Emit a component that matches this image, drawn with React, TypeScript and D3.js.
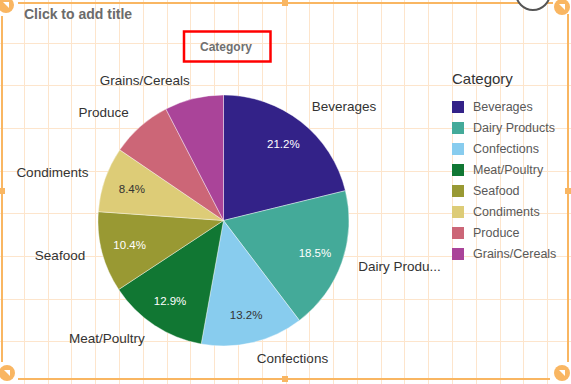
import { useEffect, useRef } from "react";
import * as d3 from "d3";

const categories = [
  "Beverages",
  "Dairy Products",
  "Confections",
  "Meat/Poultry",
  "Seafood",
  "Condiments",
  "Produce",
  "Grains/Cereals",
];
const shares = [21.2, 18.5, 13.2, 12.9, 10.4, 8.4, 7.9, 7.6];
const colors = ["#332288", "#44aa99", "#88ccee", "#117733", "#999933", "#ddcc77", "#cc6677", "#aa4499"];
const darkText = ["Confections", "Condiments"];

const W = 571;
const H = 384;
const FONT = "'Liberation Sans', Arial, sans-serif";

const App = () => {
  const ref = useRef<SVGSVGElement | null>(null);

  useEffect(() => {
    const svg = d3.select(ref.current);
    svg.selectAll("*").remove();

    // editor grid
    const grid = svg.append("g").attr("stroke", "#fde5cc").attr("stroke-width", 1);
    d3.range(1, 24).forEach((i) => {
      const x = Math.round((i * W) / 24) + 0.5;
      grid.append("line").attr("x1", x).attr("x2", x).attr("y1", 0).attr("y2", H);
    });
    d3.range(1, 9).forEach((i) => {
      const y = Math.round((i * H) / 9) + 0.5;
      grid.append("line").attr("x1", 0).attr("x2", W).attr("y1", y).attr("y2", y);
    });

    // selection frame
    const orange = "#f9b662";
    const frame = svg.append("g").attr("stroke", orange).attr("stroke-width", 2).attr("fill", "none");
    frame.append("line").attr("x1", 18).attr("x2", 553).attr("y1", 3).attr("y2", 3);
    frame.append("line").attr("x1", 2).attr("x2", 2).attr("y1", 16).attr("y2", 362);
    frame.append("line").attr("x1", 568).attr("x2", 568).attr("y1", 14).attr("y2", 362);
    frame.append("line").attr("x1", 18).attr("x2", 550).attr("y1", 379).attr("y2", 379);

    svg
      .append("circle")
      .attr("cx", 533)
      .attr("cy", -7)
      .attr("r", 17)
      .attr("fill", "#fff")
      .attr("stroke", "#555")
      .attr("stroke-width", 2);

    const handles: [number, number][] = [
      [6, 5],
      [562, 7],
      [7, 373],
      [562, 373],
    ];
    handles.forEach(([hx, hy]) => {
      svg.append("circle").attr("cx", hx).attr("cy", hy).attr("r", 8).attr("fill", orange);
      svg
        .append("path")
        .attr("d", `M${hx - 3},${hy - 3}L${hx + 3},${hy - 3}L${hx + 3},${hy + 3}Z`)
        .attr("fill", "#fff");
    });
    const squares: [number, number][] = [
      [285, 3],
      [2, 191],
      [568, 191],
      [285, 379],
    ];
    squares.forEach(([sx, sy]) => {
      svg.append("rect").attr("x", sx - 3).attr("y", sy - 3).attr("width", 6).attr("height", 6).attr("fill", orange);
    });

    // title
    svg
      .append("text")
      .attr("x", 24)
      .attr("y", 19)
      .attr("font-family", FONT)
      .attr("font-size", 14)
      .attr("font-weight", "bold")
      .attr("fill", "#6b6b6b")
      .text("Click to add title");

    // dimension title with red highlight
    svg
      .append("text")
      .attr("x", 226)
      .attr("y", 51)
      .attr("text-anchor", "middle")
      .attr("font-family", FONT)
      .attr("font-size", 12)
      .attr("font-weight", "bold")
      .attr("fill", "#707070")
      .text("Category");
    svg
      .append("rect")
      .attr("x", 184)
      .attr("y", 31.5)
      .attr("width", 86.5)
      .attr("height", 30)
      .attr("fill", "none")
      .attr("stroke", "#ff0000")
      .attr("stroke-width", 2.5);

    // pie
    const cx = 223.5;
    const cy = 220.5;
    const r = 125.5;
    const data = categories.map((c, i) => ({ name: c, value: shares[i], color: colors[i] }));
    const pie = d3
      .pie<{ name: string; value: number; color: string }>()
      .sort(null)
      .value((d) => d.value);
    const arcs = pie(data);
    const arc = d3
      .arc<d3.PieArcDatum<{ name: string; value: number; color: string }>>()
      .innerRadius(0)
      .outerRadius(r);
    const total = d3.sum(shares);

    const g = svg.append("g").attr("transform", `translate(${cx},${cy})`);
    g.selectAll("path.slice")
      .data(arcs)
      .join("path")
      .attr("class", "slice")
      .attr("d", arc)
      .attr("fill", (d) => d.data.color)
      .attr("stroke", "#fff")
      .attr("stroke-width", 0.4);

    const mid = (d: d3.PieArcDatum<unknown>) => (d.startAngle + d.endAngle) / 2;

    g.selectAll("text.pct")
      .data(arcs.filter((d) => d.data.value / total >= 0.08))
      .join("text")
      .attr("class", "pct")
      .attr("x", (d) => Math.sin(mid(d)) * 97)
      .attr("y", (d) => -Math.cos(mid(d)) * 97)
      .attr("dy", "0.35em")
      .attr("text-anchor", "middle")
      .attr("font-family", FONT)
      .attr("font-size", 11.5)
      .attr("fill", (d) => (darkText.includes(d.data.name) ? "#333" : "#fff"))
      .text((d) => `${d.data.value.toFixed(1)}%`);

    const maxRight = 446 - cx;
    g.selectAll("text.lbl")
      .data(arcs)
      .join("text")
      .attr("class", "lbl")
      .attr("x", (d) => Math.sin(mid(d)) * 143)
      .attr("y", (d) => -Math.cos(mid(d)) * 143 - 1.5)
      .attr("dy", "0.35em")
      .attr("text-anchor", (d) => (mid(d) < Math.PI ? "start" : "end"))
      .attr("font-family", FONT)
      .attr("font-size", 13.5)
      .attr("fill", "#333")
      .text((d) => d.data.name)
      .each(function (d) {
        const el = this as SVGTextElement;
        if (mid(d) >= Math.PI) return;
        const x0 = Math.sin(mid(d)) * 143;
        let txt = d.data.name;
        while (txt.length > 1 && x0 + el.getComputedTextLength() > maxRight) {
          txt = txt.slice(0, -1);
          el.textContent = txt + "...";
        }
      });

    // legend
    const lx = 452;
    svg
      .append("text")
      .attr("x", lx)
      .attr("y", 84)
      .attr("font-family", FONT)
      .attr("font-size", 15)
      .attr("fill", "#333")
      .text("Category");
    const items = svg
      .append("g")
      .selectAll("g")
      .data(data)
      .join("g")
      .attr("transform", (_, i) => `translate(${lx},${101 + i * 21})`);
    items.append("rect").attr("width", 12).attr("height", 12).attr("fill", (d) => d.color);
    items
      .append("text")
      .attr("x", 21)
      .attr("y", 6)
      .attr("dy", "0.35em")
      .attr("font-family", FONT)
      .attr("font-size", 12.5)
      .attr("fill", "#595959")
      .text((d) => d.name);
  }, []);

  return (
    <svg
      ref={ref}
      width={W}
      height={H}
      style={{ position: "absolute", left: 0, top: 0, display: "block", background: "#fff" }}
    />
  );
};

export default App;
